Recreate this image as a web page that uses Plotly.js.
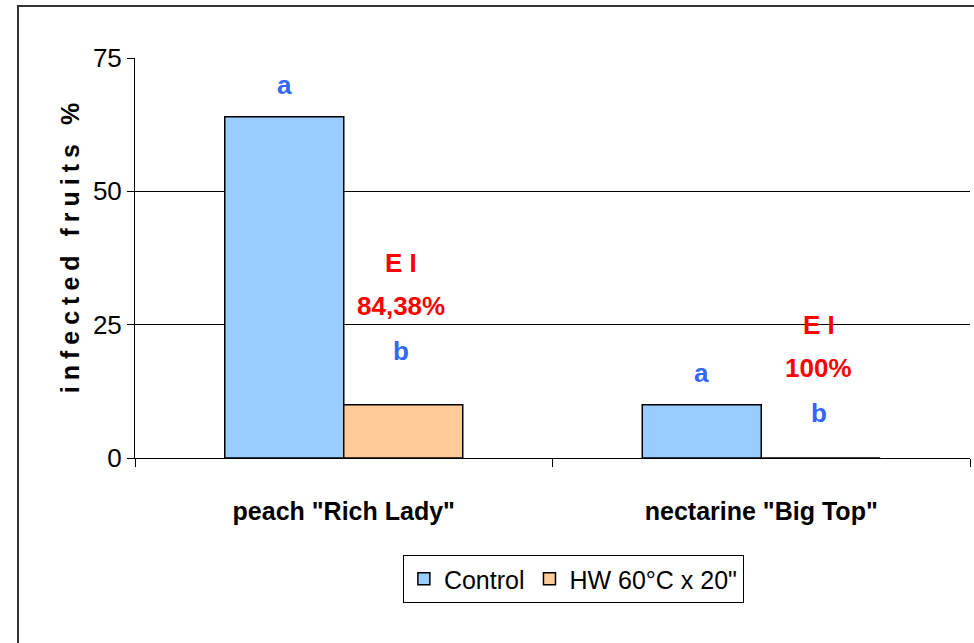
<!DOCTYPE html>
<html>
<head>
<meta charset="utf-8">
<script src="https://cdn.plot.ly/plotly-3.0.1.min.js"></script>
<style>
  html, body { margin: 0; padding: 0; background: #fff; }
  #chart { width: 974px; height: 643px; position: relative; }
  #frame { position: absolute; left: 17px; top: 5px; width: 1000px; height: 700px;
           border: 2px solid #333; pointer-events: none; box-sizing: border-box; }
  .ytitle { letter-spacing: 6px; }
</style>
</head>
<body>
<div id="chart"></div>
<div id="frame"></div>
<script>
// ---- data ----
const categories = ['peach "Rich Lady"', 'nectarine "Big Top"'];
const seriesNames = ['Control', 'HW 60°C x 20"'];
const controlValues = [64, 10];
const hwValues = [10, 0];
const controlLetters = ['a', 'a'];
const hwLetters = ['b', 'b'];
const efficacyLabel = ['E I', 'E I'];
const efficacyValues = ['84,38%', '100%'];
const yTicks = [0, 25, 50, 75];
const yTitle = 'infected fruits %';

const FONT = '"Liberation Sans", Arial, sans-serif';
const BLUE = '#3366ff';
const RED = '#ff0000';

const bargap = 0.43;
const half = (1 - bargap) / 4; // offset of each bar centre from category centre

const traces = [
  { type: 'bar', name: seriesNames[0], x: categories, y: controlValues,
    marker: { color: '#99ccff', line: { color: '#000', width: 1.5 } }, hoverinfo: 'none' },
  { type: 'bar', name: seriesNames[1], x: categories, y: hwValues,
    marker: { color: '#ffcc99', line: { color: '#000', width: 1.5 } }, hoverinfo: 'none' }
];

const annotations = [];
const letterFont = (c) => ({ family: FONT, size: 26, color: c, weight: 'bold' });
const bShift = [54, 45];
categories.forEach((c, i) => {
  annotations.push({ x: i - half, y: controlValues[i], xref: 'x', yref: 'y', text: '<b>' + controlLetters[i] + '</b>',
    showarrow: false, yshift: 32, font: letterFont(BLUE), xanchor: 'center', yanchor: 'middle' });
  const hx = i + half - 0.005;
  annotations.push({ x: hx, y: hwValues[i], xref: 'x', yref: 'y', text: '<b>' + hwLetters[i] + '</b>',
    showarrow: false, yshift: bShift[i], font: letterFont(BLUE), xanchor: 'center', yanchor: 'middle' });
  annotations.push({ x: hx, y: hwValues[i], xref: 'x', yref: 'y', text: '<b>' + efficacyValues[i] + '</b>',
    showarrow: false, yshift: bShift[i] + 45, font: letterFont(RED), xanchor: 'center', yanchor: 'middle' });
  annotations.push({ x: hx, y: hwValues[i], xref: 'x', yref: 'y', text: '<b>' + efficacyLabel[i] + '</b>',
    showarrow: false, yshift: bShift[i] + 88, font: letterFont(RED), xanchor: 'center', yanchor: 'middle' });
});

const layout = {
  width: 974, height: 643,
  margin: { l: 135, r: 4, t: 58, b: 185 },
  paper_bgcolor: 'rgba(0,0,0,0)', plot_bgcolor: 'rgba(0,0,0,0)',
  barmode: 'group', bargap: bargap, bargroupgap: 0,
  showlegend: true,
  legend: { orientation: 'h', x: 0.525, xanchor: 'center', y: -0.2425, yanchor: 'top',
    bordercolor: '#000', borderwidth: 1, bgcolor: '#fff',
    font: { family: FONT, size: 25, color: '#000' }, itemwidth: 30, tracegroupgap: 0 },
  xaxis: {
    type: 'category', tickson: 'boundaries', ticks: 'outside', ticklen: 8, tickcolor: '#000',
    showline: true, linecolor: '#000', linewidth: 1, showgrid: false,
    tickfont: { family: FONT, size: 25, color: '#000', weight: 'bold' },
    ticklabelstandoff: 31, fixedrange: true
  },
  yaxis: {
    range: [0, 75], tickvals: yTicks, ticktext: yTicks.map(String),
    ticks: 'outside', ticklen: 7, tickcolor: '#000',
    showline: true, linecolor: '#000', linewidth: 1,
    showgrid: true, gridcolor: '#000', gridwidth: 1, zeroline: false,
    tickfont: { family: FONT, size: 26, color: '#000' },
    title: { text: '&nbsp;&nbsp;' + yTitle, font: { family: FONT, size: 25, color: '#000', weight: 'bold' }, standoff: 6 },
    automargin: false, fixedrange: true
  },
  annotations: annotations
};

Plotly.newPlot('chart', traces, layout, { displayModeBar: false, staticPlot: true });
</script>
</body>
</html>
